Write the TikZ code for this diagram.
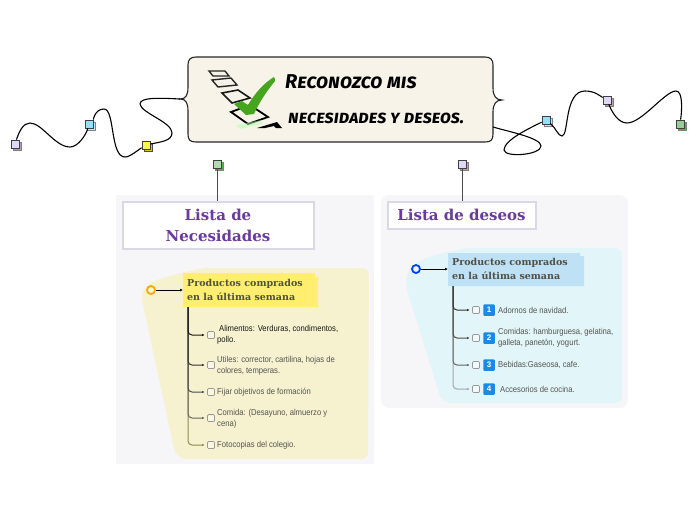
\documentclass[tikz,border=0pt]{standalone}
\usepackage{fontspec}
\usetikzlibrary{arrows.meta,positioning,calc,shadows}
\setmainfont{Liberation Sans}
\newfontfamily\titlefont[Letters=SmallCaps,ItalicFont=*-Italic]{Fira Sans}
\newfontfamily\slabfont{DejaVu Serif}
\newfontfamily\itemfont[FakeStretch=0.89]{Liberation Sans}
\definecolor{paperCream}{RGB}{248,243,232}
\definecolor{panelGray}{RGB}{246,246,249}
\definecolor{blobYellow}{RGB}{246,241,207}
\definecolor{blobCyan}{RGB}{226,245,248}
\definecolor{headYellow}{RGB}{255,238,112}
\definecolor{headBlue}{RGB}{191,225,245}
\definecolor{listPurple}{RGB}{106,58,156}
\definecolor{listEdge}{RGB}{219,216,230}
\definecolor{slabGray}{RGB}{80,80,70}
\definecolor{itemGray}{RGB}{85,85,80}
\definecolor{badgeBlue}{RGB}{30,136,229}
\definecolor{tickGreen}{RGB}{70,165,30}
\tikzset{
  marker/.style={rectangle, draw=black!75, line width=0.8pt, minimum size=8pt, inner sep=0pt},
  markerPurple/.style={marker, fill=purple!20!blue!15, copy shadow={shadow xshift=2.5pt, shadow yshift=-2.5pt, fill=gray!70!purple!60, draw=gray}},
  markerBlue/.style={marker, fill=cyan!40, copy shadow={shadow xshift=2.5pt, shadow yshift=-2.5pt, fill=cyan!25, draw=gray}},
  markerYellow/.style={marker, fill=yellow!70, copy shadow={shadow xshift=2.5pt, shadow yshift=-2.5pt, fill=yellow!80!black, draw=black!70}},
  markerGreen/.style={marker, fill=green!35!gray!60, copy shadow={shadow xshift=2.5pt, shadow yshift=-2.5pt, fill=green!40!gray, draw=gray}},
  wire/.style={draw=black, line width=1.1pt},
  drop/.style={draw=black!70, line width=0.8pt},
  listbox/.style={rectangle, draw=listEdge, fill=white, line width=2pt, align=center, inner sep=0pt,
                  text=listPurple, font=\slabfont\bfseries\fontsize{15}{21}\selectfont},
  headtext/.style={anchor=north west, align=left, inner sep=0pt, text=slabGray,
                   font=\slabfont\bfseries\fontsize{9.5}{14}\selectfont},
  itemtext/.style={anchor=west, align=left, inner sep=0pt, text=itemGray,
                   font=\itemfont\fontsize{8.6}{11}\selectfont},
  chk/.style={rectangle, rounded corners=1pt, draw=gray!80, fill=white!40!blobYellow, line width=0.7pt, minimum size=7pt, inner sep=0pt},
  badge/.style={rectangle, rounded corners=1pt, fill=badgeBlue, text=white, minimum size=11.5pt, inner sep=0pt,
                font=\bfseries\fontsize{8}{8}\selectfont},
  stem/.style={-{Latex[length=2.5pt,width=2.5pt]}, line width=1pt, rounded corners=4pt, shorten >=2.5pt},
  titleline/.style={anchor=west, inner sep=0pt, text=black, font=\titlefont\itshape\bfseries\fontsize{20}{20}\selectfont}
}
\begin{document}
\begin{tikzpicture}[x=1pt,y=-1pt]
\useasboundingbox (0,0) rectangle (697,520);

% Panels
\fill[panelGray] (116,195) rectangle (374,464);
\fill[panelGray, rounded corners=8pt] (381,195) rectangle (628,408);
\fill[blobYellow] (205,268) -- (362,268) .. controls (366,268) and (369,271) .. (369,275) -- (368,452) .. controls (368,456) and (365,459) .. (361,459) -- (186,459) .. controls (180,459) and (176,455) .. (174,449) -- (142,300) .. controls (140,286) and (150,278) .. (205,268) -- cycle;
\fill[blobCyan] (470,248) -- (615,248) .. controls (619,248) and (622,251) .. (622,255) -- (622,396) .. controls (622,400) and (619,403) .. (615,403) -- (451,403) .. controls (445,403) and (441,399) .. (439,393) -- (407,290) .. controls (403,265) and (415,257) .. (470,248) -- cycle;

% Title
\node[rectangle, minimum width=1pt, inner sep=0pt] (tipL) at (180,99) {};
\node[rectangle, minimum width=1pt, inner sep=0pt] (tipR) at (493,127) {};
\draw[fill=paperCream, draw=black!85, line width=1.1pt] (196,57) -- (485,57) .. controls (491,57) and (493,60) .. (493,65)
  -- (493,88) .. controls (493,96) and (496,100) .. (502,100) .. controls (496,100) and (493,104) .. (493,112)
  -- (493,134) .. controls (493,140) and (491,142) .. (485,142) -- (196,142) .. controls (190,142) and (188,140) .. (188,134)
  -- (188,111) .. controls (188,103) and (186,99) .. (180,99) .. controls (186,99) and (188,95) .. (188,87)
  -- (188,65) .. controls (188,60) and (190,57) .. (196,57) -- cycle;
\node[titleline] (title1) at (285,82) {Reconozco mis};
\node[titleline, font=\titlefont\itshape\bfseries\fontsize{18}{18}\selectfont] (title2) at (288,118) {necesidades y deseos.};

% Checklist icon
\draw[black!85, line width=1.4pt] (209,71) -- (225,71) -- (229,76) -- (213,76) -- cycle;
\draw[black!85, line width=1.4pt] (212,80) -- (231,78) -- (237,85) -- (218,87) -- cycle;
\draw[black!90, line width=1.6pt] (222,93) -- (238,90) -- (250,98) -- (232,103) -- cycle;
\draw[black, line width=1.8pt] (231,112) -- (250,105) -- (268,117) -- (248,124) -- cycle;
\fill[black] (257,128) -- (277,122) -- (282,128) -- (276,128) -- (274,126) -- (265,128) -- cycle;
\fill[green!30!white, opacity=0.5] (236,125) -- (262,120) -- (262,124) -- (240,129) -- cycle;
\fill[tickGreen] (234,104) -- (242,101) -- (248,105) .. controls (255,93) and (264,83) .. (274,77) .. controls (275,78) and (275,80) .. (275,81)
  .. controls (266,92) and (259,103) .. (254,114) -- (246,115) -- cycle;

% Top connectors
\node[markerPurple] (mPurpleL) at (15,144) {};
\node[markerBlue] (mBlueL) at (89,124) {};
\node[markerYellow] (mYellowL) at (146,145) {};
\node[markerBlue] (mBlueR) at (546,120) {};
\node[markerPurple] (mPurpleR) at (607,100) {};
\node[markerGreen] (mGreenR) at (680,124) {};
\draw[wire] (tipL.center) .. controls (160,98) and (140,97) .. (140,104) .. controls (141,113) and (172,122) .. (172,133) .. controls (172,141) and (160,142) .. (mYellowL);
\draw[wire] (mYellowL) .. controls (138,150) and (130,157) .. (125,157) .. controls (110,157) and (115,109) .. (104,109) .. controls (95,109) and (93,120) .. (mBlueL);
\draw[wire] (mBlueL) .. controls (86,135) and (78,147) .. (70,147) .. controls (55,147) and (42,123) .. (30,123) .. controls (23,123) and (19,132) .. (mPurpleL);
\draw[wire] (tipR.center) .. controls (510,132) and (541,138) .. (541,146) .. controls (541,155) and (505,158) .. (504,150) .. controls (504,140) and (530,128) .. (mBlueR);
\draw[wire] (mBlueR) .. controls (556,128) and (558,136) .. (562,136) .. controls (569,136) and (564,91) .. (585,91) .. controls (595,91) and (600,96) .. (mPurpleR);
\draw[wire] (mPurpleR) .. controls (612,112) and (618,123) .. (627,123) .. controls (642,123) and (665,91) .. (676,91) .. controls (683,91) and (682,110) .. (mGreenR);
\node[markerGreen, fill=green!30!gray!45] (mGreenA) at (217,164) {};
\node[markerPurple] (mPurpleB) at (462,164) {};

% Necesidades
\node[listbox, minimum width=191pt, minimum height=47pt] (listA) at (218,225) {Lista de\\Necesidades};
\draw[drop] (mGreenA) -- (mGreenA |- listA.north);
\node[circle, draw=orange!70!yellow, fill=white!30!blobYellow, line width=1.8pt, minimum size=8pt, inner sep=0pt] (dotA) at (151,290) {};
\fill[headYellow] (183,273) -- (315,273) -- (315,277) -- (318,277) -- (318,307) -- (183,307) -- cycle;
\node[headtext] (headA) at (187,279) {Productos comprados\\en la última semana};
\coordinate (headAin) at (183,290);
\coordinate (trunkA) at (188,307);
\draw[-{Latex[length=3pt,width=3pt]}, black, line width=0.8pt] (dotA) -- (headAin);

\node[chk] (chkA5) at (211,445) {};
\node[chk] (chkA4) at (211,418) {};
\node[chk] (chkA3) at (211,392) {};
\node[chk] (chkA2) at (211,365) {};
\node[chk] (chkA1) at (211,335) {};
\draw[stem, draw=gray!55!olive] (trunkA) |- (chkA5);
\draw[stem, draw=black!60] (trunkA) |- (chkA4);
\draw[stem, draw=black!70] (trunkA) |- (chkA3);
\draw[stem, draw=black!80] (trunkA) |- (chkA2);
\draw[stem, draw=black!90] (trunkA) |- (chkA1);
\node[itemtext, text=black!90] (itemA1) at (217,335) {\hspace{2pt}Alimentos: Verduras, condimentos,\\pollo.};
\node[itemtext] (itemA2) at (217,365.5) {Utiles: corrector, cartilina, hojas de\\colores, temperas.};
\node[itemtext] (itemA3) at (217,392) {Fijar objetivos de formación};
\node[itemtext] (itemA4) at (217,418.5) {Comida: (Desayuno, almuerzo y\\cena)};
\node[itemtext] (itemA5) at (217,445) {Fotocopias del colegio.};

% Deseos
\node[listbox, minimum width=148pt, minimum height=27pt] (listB) at (461.5,215) {Lista de deseos};
\draw[drop] (mPurpleB) -- (mPurpleB |- listB.north);
\node[circle, draw=blue!75!cyan, fill=white!30!blobCyan, line width=1.8pt, minimum size=8pt, inner sep=0pt] (dotB) at (416,269) {};
\fill[headBlue] (448,253) -- (580,253) -- (580,256) -- (584,256) -- (584,286) -- (448,286) -- cycle;
\node[headtext] (headB) at (452,258) {Productos comprados\\en la última semana};
\coordinate (headBin) at (448,269);
\coordinate (trunkB) at (453,286);
\draw[-{Latex[length=3pt,width=3pt]}, black, line width=0.8pt] (dotB) -- (headBin);

\node[chk, fill=white!40!blobCyan] (chkB4) at (476,389) {};
\node[chk, fill=white!40!blobCyan] (chkB3) at (476,365) {};
\node[chk, fill=white!40!blobCyan] (chkB2) at (476,338) {};
\node[chk, fill=white!40!blobCyan] (chkB1) at (476,310) {};
\draw[stem, draw=gray!70] (trunkB) |- (chkB4);
\draw[stem, draw=black!60] (trunkB) |- (chkB3);
\draw[stem, draw=black!70] (trunkB) |- (chkB2);
\draw[stem, draw=black!80] (trunkB) |- (chkB1);
\node[badge] (numB1) at (489,310) {1};
\node[badge] (numB2) at (489,338) {2};
\node[badge] (numB3) at (489,365) {3};
\node[badge] (numB4) at (489,389) {4};
\node[itemtext] (itemB1) at (498,310) {Adornos de navidad.};
\node[itemtext] (itemB2) at (498,338) {Comidas: hamburguesa, gelatina,\\galleta, panetón, yogurt.};
\node[itemtext] (itemB3) at (498,365) {Bebidas:Gaseosa, cafe.};
\node[itemtext] (itemB4) at (500,389) {Accesorios de cocina.};
\end{tikzpicture}
\end{document}
